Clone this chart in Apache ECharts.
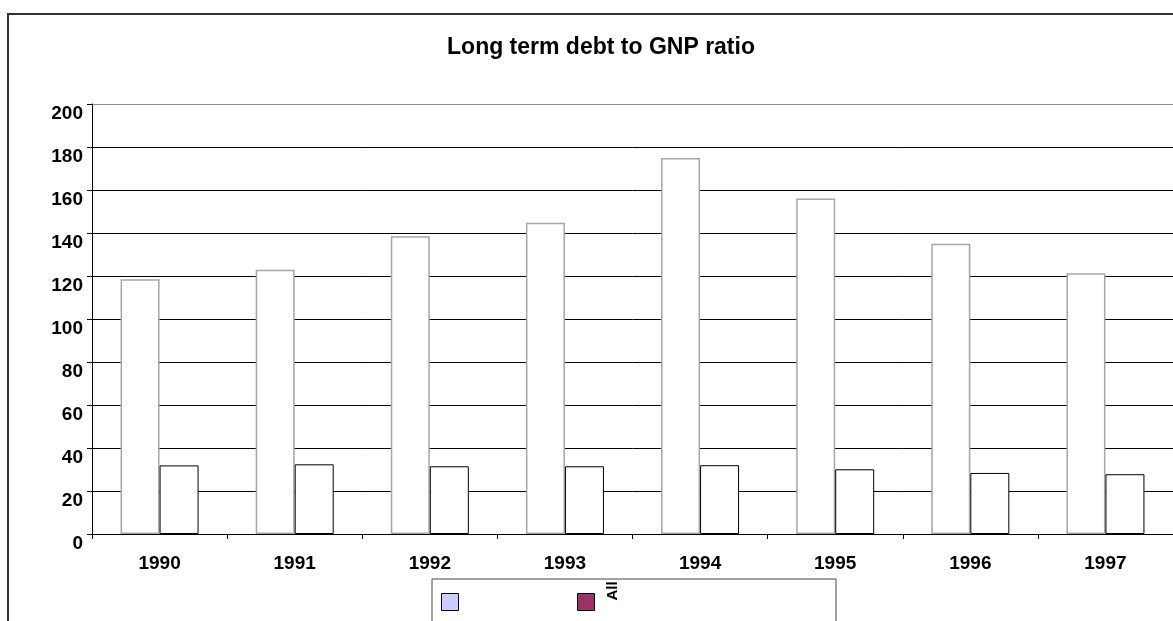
<!DOCTYPE html>
<html>
<head>
<meta charset="utf-8">
<script src="https://cdn.jsdelivr.net/npm/echarts@6/dist/echarts.min.js"></script>
<style>
  html, body { margin: 0; padding: 0; background: #fff; }
  #chart { width: 1173px; height: 621px; }
</style>
</head>
<body>
<div id="chart"></div>
<script>
// Years on the category axis
const years = ['1990', '1991', '1992', '1993', '1994', '1995', '1996', '1997'];
// Long term debt to GNP ratio, first series (tall bars)
const ratioValues = [118.5, 122.9, 138.5, 144.8, 174.9, 156.0, 135.0, 121.3];
// Second series, "All"
const allValues = [31.9, 32.4, 31.5, 31.5, 32.0, 30.1, 28.4, 27.8];
// Value axis ticks
const yMin = 0, yMax = 200, yStep = 20;

const boldFont = "'Liberation Sans', Arial, sans-serif";

const chart = echarts.init(document.getElementById('chart'), null, { renderer: 'canvas' });

// Split line colours: black lines, grey top border of the plot
const splitColors = [];
for (let v = yMin; v <= yMax; v += yStep) splitColors.push(v === yMax ? '#8c8c8c' : '#000');

chart.setOption({
  backgroundColor: '#fff',
  animation: false,
  title: {
    text: 'Long term debt to GNP ratio',
    left: 596,
    top: 31,
    textAlign: 'center',
    textStyle: {
      fontFamily: boldFont,
      fontWeight: 'bold',
      fontSize: 23,
      color: '#000'
    }
  },
  legend: {
    left: 432,
    top: 579,
    orient: 'horizontal',
    itemWidth: 17,
    itemHeight: 17,
    itemGap: 118,
    padding: [14, 241, 30, 9],
    borderColor: '#444',
    borderWidth: 1,
    selectedMode: false,
    formatter: () => '',
    data: [
      { name: 'Ratio', icon: 'rect', itemStyle: { color: '#ccccff', borderColor: '#000', borderWidth: 1 } },
      { name: 'All', icon: 'rect', itemStyle: { color: '#993366', borderColor: '#000', borderWidth: 1 } }
    ]
  },
  grid: {
    left: 92,
    top: 104,
    width: 1084,
    height: 430,
    containLabel: false
  },
  xAxis: {
    type: 'category',
    data: years,
    boundaryGap: true,
    axisLine: { show: true, lineStyle: { color: '#000', width: 1 } },
    axisTick: { show: true, length: 5, inside: false, alignWithLabel: false, lineStyle: { color: '#000' } },
    axisLabel: {
      margin: 20,
      fontFamily: boldFont,
      fontWeight: 'bold',
      fontSize: 19,
      color: '#000'
    },
    splitLine: { show: false }
  },
  yAxis: {
    type: 'value',
    min: yMin,
    max: yMax,
    interval: yStep,
    axisLine: { show: true, lineStyle: { color: '#000', width: 1 } },
    axisTick: { show: true, length: 5, inside: false, lineStyle: { color: '#000' } },
    axisLabel: {
      margin: 9,
      verticalAlign: 'top',
      fontFamily: boldFont,
      fontWeight: 'bold',
      fontSize: 19,
      color: '#000'
    },
    splitLine: { show: true, lineStyle: { color: splitColors, width: 1 } }
  },
  series: [
    {
      name: 'Ratio',
      type: 'bar',
      data: ratioValues,
      barWidth: 39,
      barGap: '0%',
      itemStyle: { color: '#fff', borderColor: '#a6a6a6', borderWidth: 1.5 },
      emphasis: { disabled: true }
    },
    {
      name: 'All',
      type: 'bar',
      data: allValues,
      barWidth: 39,
      barGap: '0%',
      itemStyle: { color: '#fff', borderColor: '#000', borderWidth: 1 },
      emphasis: { disabled: true }
    }
  ],
  graphic: [
    // Outer chart frame (continues past the right and bottom edges)
    {
      type: 'rect',
      x: 0,
      y: 0,
      shape: { x: 8, y: 14, width: 1200, height: 700 },
      style: { fill: 'none', stroke: '#333', lineWidth: 2 },
      silent: true,
      z: 100
    },
    // Legend label for the second series, turned on its side
    {
      type: 'text',
      x: 613,
      y: 591,
      rotation: Math.PI / 2,
      style: {
        text: 'All',
        font: "bold 15px 'Liberation Sans', Arial, sans-serif",
        fill: '#000',
        textAlign: 'center',
        textVerticalAlign: 'middle'
      },
      z: 100
    }
  ]
});
</script>
</body>
</html>
